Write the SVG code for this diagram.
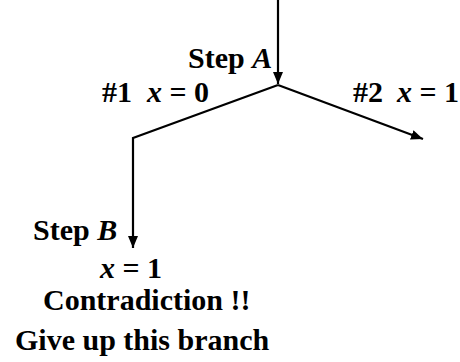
<svg xmlns="http://www.w3.org/2000/svg" width="460" height="362" viewBox="0 0 460 362">
<style>
.t{font-family:"Liberation Serif","Times New Roman",serif;font-weight:bold;font-size:30px;fill:#000}
.i{font-style:italic}
.c{fill:none;stroke:#000;stroke-width:2.2}
</style>
<defs>
<marker id="ah" viewBox="0 0 12 12" refX="12" refY="6" markerWidth="12" markerHeight="12" markerUnits="userSpaceOnUse" orient="auto">
<path d="M0,1 L12,6 L0,11 Z" fill="#000"/>
</marker>
</defs>
<rect width="460" height="362" fill="#fff"/>
<g id="connectors">
<line class="c" x1="278" y1="0" x2="278" y2="84" marker-end="url(#ah)"/>
<line class="c" x1="278" y1="85" x2="423" y2="139" marker-end="url(#ah)"/>
<polyline class="c" points="278,85 133,138 133,248" marker-end="url(#ah)"/>
</g>
<g id="stepA"><text class="t" x="188" y="68">Step <tspan class="i">A</tspan></text></g>
<g id="branch1"><text class="t" y="102"><tspan x="102">#1</tspan><tspan x="147" class="i">x</tspan> = 0</text></g>
<g id="branch2"><text class="t" y="102"><tspan x="353">#2</tspan><tspan x="397" class="i">x</tspan> = 1</text></g>
<g id="stepB"><text class="t" x="33" y="240">Step <tspan class="i">B</tspan></text></g>
<g id="result">
<text class="t" x="100" y="278"><tspan class="i">x</tspan> = 1</text>
<text class="t" x="43" y="310">Contradiction !!</text>
<text class="t" x="15" y="350">Give up this branch</text>
</g>
</svg>
